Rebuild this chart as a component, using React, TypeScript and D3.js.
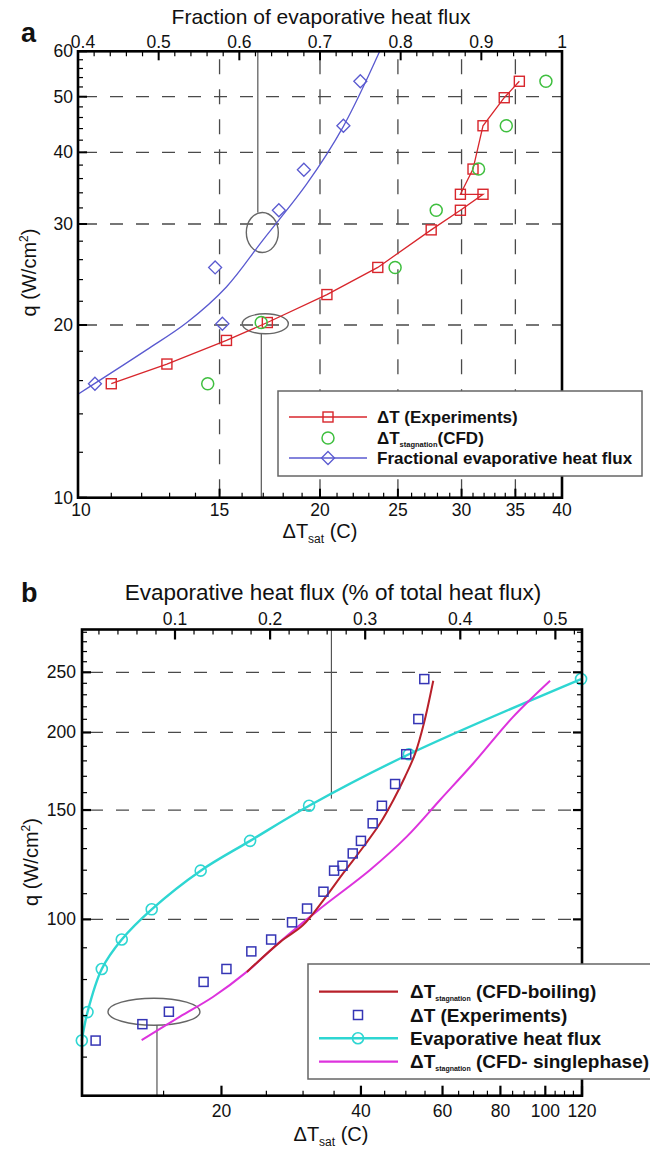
import React from "react";
import * as d3 from "d3";

const FONT = "'Liberation Sans', Arial, Helvetica, sans-serif";

// ================= Panel (a) data =================
const aBottomTicks = [10, 15, 20, 25, 30, 35, 40];
const aLeftTicks = [10, 20, 30, 40, 50, 60];
const aTopTicks = [0.4, 0.5, 0.6, 0.7, 0.8, 0.9, 1];
const aTopTickLabels = ["0.4", "0.5", "0.6", "0.7", "0.8", "0.9", "1"];
const aGridQ = [20, 30, 40, 50];
const aGridDT = [15, 20, 25, 30, 35];

// ΔT (Experiments)
const aExpDT = [11.0, 12.9, 15.3, 17.2, 20.4, 23.6, 27.5, 29.9, 31.9, 29.9, 31.0, 31.9, 33.9, 35.4];
const aExpQ = [15.8, 17.1, 18.8, 20.2, 22.6, 25.2, 29.3, 31.7, 33.8, 33.8, 37.4, 44.5, 49.8, 53.2];
// ΔT stagnation (CFD)
const aCfdDT = [14.5, 16.9, 24.8, 27.9, 31.5, 34.1, 38.2];
const aCfdQ = [15.8, 20.2, 25.2, 31.7, 37.4, 44.5, 53.2];
// Fractional evaporative heat flux (points + fitted curve)
const aFracF = [0.421, 0.579, 0.57, 0.649, 0.68, 0.729, 0.75];
const aFracQ = [15.8, 20.1, 25.2, 31.7, 37.3, 44.5, 53.2];
const aFitF = [0.4, 0.485, 0.535, 0.584, 0.629, 0.684, 0.729, 0.774];
const aFitQ = [15.15, 18.1, 20.2, 23.3, 28.1, 35.3, 44.4, 60];

// ================= Panel (b) data =================
const bBottomTicks = [20, 40, 60, 80, 100, 120];
const bLeftTicks = [100, 150, 200, 250];
const bTopTicks = [0.1, 0.2, 0.3, 0.4, 0.5];
const bTopTickLabels = ["0.1", "0.2", "0.3", "0.4", "0.5"];
const bGridQ = [100, 150, 200, 250];

// ΔT (Experiments)
const bExpDT = [10.7, 13.5, 15.4, 18.3, 20.5, 23.2, 25.6, 28.4, 30.6, 33.2, 35.0, 36.5, 38.4, 40.0, 42.4, 44.4, 47.4, 50.1, 53.2, 54.8];
const bExpQ = [63.8, 67.8, 71.0, 79.3, 83.2, 88.8, 92.8, 98.9, 104.1, 110.8, 119.8, 122.0, 127.7, 133.8, 142.8, 152.4, 165.2, 184.5, 210.2, 243.8];
// Evaporative heat flux (fraction)
const bEvapF = [0.002, 0.008, 0.023, 0.044, 0.0755, 0.127, 0.179, 0.241, 0.346, 0.527];
const bEvapQ = [63.8, 70.9, 83.2, 92.8, 103.8, 119.8, 133.8, 152.4, 184.5, 243.8];
// ΔT stagnation (CFD-boiling)
const bBoilDT = [22.7, 26.8, 30.0, 33.2, 36.6, 40.5, 44.0, 47.0, 49.8, 52.4, 54.7, 57.3];
const bBoilQ = [82.3, 92.0, 97.9, 107.4, 118.6, 130.9, 142.8, 155.7, 169.7, 185.1, 206.9, 242.3];
// ΔT stagnation (CFD- singlephase)
const bSingleDT = [13.45, 16.27, 19.2, 22.67, 26.75, 32.36, 41.84, 50.23, 59.25, 69.95, 85.3, 102.4];
const bSingleQ = [63.9, 69.7, 75.05, 82.3, 92.0, 103.5, 120.1, 135.9, 155.7, 178.4, 212.1, 242.3];

const RED_A = "#d8262c";
const GREEN_A = "#3fbf3f";
const BLUE_A = "#5a5ad0";
const RED_B = "#b8202a";
const BLUE_B = "#3535b5";
const CYAN_B = "#2ed6d2";
const MAG_B = "#dd33dd";
const GRID = "#4a4a4a";

type P = { l: number; r: number; t: number; b: number };

function Square({ x, y, s, c, w = 1.4 }: any) {
  return <rect x={x - s / 2} y={y - s / 2} width={s} height={s} fill="none" stroke={c} strokeWidth={w} />;
}
function Diamond({ x, y, s, c }: any) {
  return <path d={`M${x},${y - s}L${x + s},${y}L${x},${y + s}L${x - s},${y}Z`} fill="none" stroke={c} strokeWidth={1.3} />;
}

function hTicks(vals: number[], scale: any, xEdge: number, dir: number, len: number, w: number, key: string) {
  return vals.map((v, i) => (
    <line key={key + i} x1={xEdge} x2={xEdge + dir * len} y1={scale(v)} y2={scale(v)} stroke="#000" strokeWidth={w} />
  ));
}
function vTicks(vals: number[], scale: any, yEdge: number, dir: number, len: number, w: number, key: string) {
  return vals.map((v, i) => (
    <line key={key + i} y1={yEdge} y2={yEdge + dir * len} x1={scale(v)} x2={scale(v)} stroke="#000" strokeWidth={w} />
  ));
}

export default function App() {
  // ---------- panel a scales ----------
  const A: P = { l: 78, r: 562, t: 51.3, b: 497.7 };
  const ax = d3.scaleLog().domain([10, 40]).range([A.l, A.r]);
  const ay = d3.scaleLog().domain([10, 60]).range([A.b, A.t]);
  const axTop = d3.scaleLinear().domain([0.4, 1]).range([A.l, A.r]);

  // ---------- panel b scales ----------
  const B: P = { l: 82, r: 582, t: 629.5, b: 1095.7 };
  const bx = d3.scaleLog().domain([10, 120]).range([B.l, B.r]);
  const by = d3.scaleLog().domain([52, 293]).range([B.b, B.t]);
  const bxTop = d3.scaleLinear().domain([0.0022, 0.528]).range([B.l, B.r]);

  const aMinorX = d3.range(11, 40).filter((v) => v % 5 !== 0);
  const aMinorY = d3.range(12, 60, 2).filter((v) => v % 10 !== 0);
  const aMinorTop = d3.range(0.42, 1.0, 0.02).filter((v) => Math.abs(v * 10 - Math.round(v * 10)) > 1e-6);

  const bMinorX = d3.range(15, 120, 5).filter((v) => bBottomTicks.indexOf(v) < 0);
  const bMinorY = d3.range(60, 293, 10).filter((v) => bLeftTicks.indexOf(v) < 0);
  const bMinorTop = d3.range(0.02, 0.528, 0.02).filter((v) => Math.abs(v * 10 - Math.round(v * 10)) > 1e-6);

  const lineA = d3
    .line<number>()
    .x((_, i) => ax(aExpDT[i]))
    .y((_, i) => ay(aExpQ[i]));
  const fitA = d3
    .line<number>()
    .x((_, i) => axTop(aFitF[i]))
    .y((_, i) => ay(aFitQ[i]))
    .curve(d3.curveCatmullRom.alpha(0.5));

  const evapLine = d3
    .line<number>()
    .x((_, i) => bxTop(bEvapF[i]))
    .y((_, i) => by(bEvapQ[i]))
    .curve(d3.curveCatmullRom.alpha(0.5));
  const boilLine = d3
    .line<number>()
    .x((_, i) => bx(bBoilDT[i]))
    .y((_, i) => by(bBoilQ[i]))
    .curve(d3.curveCatmullRom.alpha(0.5));
  const singleLine = d3
    .line<number>()
    .x((_, i) => bx(bSingleDT[i]))
    .y((_, i) => by(bSingleQ[i]))
    .curve(d3.curveCatmullRom.alpha(0.5));

  const tickFont = { fontFamily: FONT, fontSize: 17.5, fill: "#111" } as any;

  // annotation anchors
  const aEll1 = { x: axTop(0.6285), y: ay(29.0) };
  const aEll2 = { x: ax(17.1), y: ay(20.1) };
  const bEll = { x: bx(14.3), y: by(71.0) };

  return (
    <svg width={650} height={1150} style={{ position: "absolute", left: 0, top: 0, background: "#fff" }} fontFamily={FONT}>
      <defs>
        <clipPath id="clipA">
          <rect x={A.l} y={A.t} width={A.r - A.l} height={A.b - A.t} />
        </clipPath>
      </defs>
      <rect x={0} y={0} width={650} height={1150} fill="#fff" />

      {/* ======================= PANEL A ======================= */}
      <text x={21} y={42} fontSize={27} fontWeight="bold" fill="#111">a</text>
      <text x={(A.l + A.r) / 2 + 1} y={24} fontSize={21} textAnchor="middle" fill="#111">
        Fraction of evaporative heat flux
      </text>

      {/* grid */}
      {aGridQ.map((q, i) => (
        <line key={"agq" + i} x1={A.l} x2={A.r} y1={ay(q)} y2={ay(q)} stroke={GRID} strokeWidth={1.3} strokeDasharray="13,13" strokeDashoffset={-6} />
      ))}
      {aGridDT.map((d, i) => (
        <line key={"agd" + i} x1={ax(d)} x2={ax(d)} y1={A.t} y2={A.b} stroke={GRID} strokeWidth={1.3} strokeDasharray="15,15" strokeDashoffset={-8} />
      ))}

      {/* annotations */}
      <line x1={aEll1.x - 4.5} x2={aEll1.x - 4.5} y1={A.t} y2={aEll1.y - 20} stroke="#555" strokeWidth={1.2} />
      <ellipse cx={aEll1.x} cy={aEll1.y} rx={16} ry={20} fill="none" stroke="#666" strokeWidth={1.4} />
      <line x1={aEll2.x - 4} x2={aEll2.x - 4} y1={aEll2.y + 10} y2={A.b} stroke="#555" strokeWidth={1.2} />
      <ellipse cx={aEll2.x} cy={aEll2.y} rx={23} ry={10} fill="none" stroke="#666" strokeWidth={1.4} />

      {/* fit curve */}
      <path d={fitA(aFitF) || ""} fill="none" stroke={BLUE_A} strokeWidth={1.3} clipPath="url(#clipA)" />
      {aFracF.map((f, i) => (
        <Diamond key={"ad" + i} x={axTop(f)} y={ay(aFracQ[i])} s={6.5} c={BLUE_A} />
      ))}
      {/* experiments */}
      <path d={lineA(aExpDT) || ""} fill="none" stroke={RED_A} strokeWidth={1.3} />
      {aExpDT.map((d, i) => (
        <Square key={"as" + i} x={ax(d)} y={ay(aExpQ[i])} s={10} c={RED_A} />
      ))}
      {aCfdDT.map((d, i) => (
        <circle key={"ac" + i} cx={ax(d)} cy={ay(aCfdQ[i])} r={6} fill="none" stroke={GREEN_A} strokeWidth={1.5} />
      ))}

      {/* frame & ticks */}
      {hTicks(aLeftTicks, ay, A.l, 1, 9, 2, "alM")}
      {hTicks(aMinorY, ay, A.l, 1, 5, 1.2, "alm")}
      {vTicks(aBottomTicks, ax, A.b, -1, 9, 2, "abM")}
      {vTicks(aMinorX, ax, A.b, -1, 5, 1.2, "abm")}
      {vTicks(aTopTicks, axTop, A.t, 1, 9, 2, "atM")}
      {vTicks(aMinorTop, axTop, A.t, 1, 5, 1.2, "atm")}
      <rect x={A.l} y={A.t} width={A.r - A.l} height={A.b - A.t} fill="none" stroke="#000" strokeWidth={2.6} />

      {/* tick labels */}
      {aTopTicks.map((v, i) => (
        <text key={"atl" + i} x={axTop(v) + (i === 0 ? 5 : 0)} y={48} textAnchor="middle" {...tickFont}>
          {aTopTickLabels[i]}
        </text>
      ))}
      {aLeftTicks.map((v, i) => (
        <text key={"all" + i} x={73} y={ay(v) + 6} textAnchor="end" {...tickFont}>
          {v}
        </text>
      ))}
      {aBottomTicks.map((v, i) => (
        <text key={"abl" + i} x={ax(v) + (i === 0 ? 3 : 0)} y={516} textAnchor="middle" {...tickFont}>
          {v}
        </text>
      ))}

      {/* axis labels */}
      <text x={(A.l + A.r) / 2} y={538} textAnchor="middle" fontSize={20} fill="#111">
        ΔT<tspan fontSize={12} dy={5}>sat</tspan>
        <tspan dy={-5}> (C)</tspan>
      </text>
      <text transform={`translate(36,${(A.t + A.b) / 2 - 2}) rotate(-90)`} textAnchor="middle" fontSize={20} fill="#111">
        q (W/cm<tspan fontSize={12} dy={-8}>2</tspan>
        <tspan dy={8}>)</tspan>
      </text>

      {/* legend a */}
      <rect x={278} y={391} width={364} height={85} fill="#fff" stroke="#666" strokeWidth={1.5} />
      <line x1={289} x2={367} y1={417} y2={417} stroke={RED_A} strokeWidth={1.3} />
      <Square x={328} y={417} s={10} c={RED_A} />
      <circle cx={328} cy={438} r={6} fill="none" stroke={GREEN_A} strokeWidth={1.5} />
      <line x1={289} x2={367} y1={458} y2={458} stroke={BLUE_A} strokeWidth={1.3} />
      <Diamond x={328} y={458} s={6.5} c={BLUE_A} />
      <g fontSize={17} fontWeight="bold" fill="#111">
        <text x={377} y={423}>ΔT (Experiments)</text>
        <text x={377} y={444}>
          ΔT<tspan fontSize={7.5} dy={3}>stagnation</tspan>
          <tspan dy={-3}>(CFD)</tspan>
        </text>
        <text x={377} y={464}>Fractional evaporative heat flux</text>
      </g>

      {/* ======================= PANEL B ======================= */}
      <text x={21} y={602} fontSize={27} fontWeight="bold" fill="#111">b</text>
      <text x={333} y={600} fontSize={22.5} textAnchor="middle" fill="#111">
        Evaporative heat flux (% of total heat flux)
      </text>

      {bGridQ.map((q, i) => (
        <line key={"bgq" + i} x1={B.l} x2={B.r} y1={by(q)} y2={by(q)} stroke={GRID} strokeWidth={1.3} strokeDasharray="13,13" strokeDashoffset={-8} />
      ))}

      {/* annotations */}
      <line x1={bxTop(0.2645)} x2={bxTop(0.2645)} y1={B.t} y2={by(156.5)} stroke="#555" strokeWidth={1.2} />
      <ellipse cx={bEll.x} cy={bEll.y} rx={46} ry={13.5} fill="none" stroke="#666" strokeWidth={1.4} />
      <line x1={bEll.x + 3} x2={bEll.x + 3} y1={bEll.y + 13.5} y2={B.b} stroke="#555" strokeWidth={1.2} />

      {/* curves */}
      <path d={evapLine(bEvapF) || ""} fill="none" stroke={CYAN_B} strokeWidth={2.4} />
      {bEvapF.map((f, i) => (
        <circle key={"bc" + i} cx={bxTop(f)} cy={by(bEvapQ[i])} r={5.5} fill="none" stroke={CYAN_B} strokeWidth={1.6} />
      ))}
      <path d={singleLine(bSingleDT) || ""} fill="none" stroke={MAG_B} strokeWidth={2} />
      <path d={boilLine(bBoilDT) || ""} fill="none" stroke={RED_B} strokeWidth={2} />
      {bExpDT.map((d, i) => (
        <Square key={"bs" + i} x={bx(d)} y={by(bExpQ[i])} s={9} c={BLUE_B} w={1.5} />
      ))}

      {/* ticks & frame */}
      {hTicks(bLeftTicks, by, B.l, 1, 9, 2.2, "blM")}
      {hTicks(bMinorY, by, B.l, 1, 5, 1.2, "blm")}
      {hTicks(bLeftTicks, by, B.r, -1, 9, 2.2, "brM")}
      {hTicks(bMinorY, by, B.r, -1, 5, 1.2, "brm")}
      {vTicks(bBottomTicks, bx, B.b, -1, 10, 2.2, "bbM")}
      {vTicks(bMinorX, bx, B.b, -1, 5, 1.2, "bbm")}
      {vTicks(bTopTicks, bxTop, B.t, 1, 10, 2.2, "btM")}
      {vTicks(bMinorTop, bxTop, B.t, 1, 5, 1.2, "btm")}
      <rect x={B.l} y={B.t} width={B.r - B.l} height={B.b - B.t} fill="none" stroke="#000" strokeWidth={2.6} />

      {bTopTicks.map((v, i) => (
        <text key={"btl" + i} x={bxTop(v)} y={625} textAnchor="middle" {...tickFont}>
          {bTopTickLabels[i]}
        </text>
      ))}
      {bLeftTicks.map((v, i) => (
        <text key={"bll" + i} x={76} y={by(v) + 6} textAnchor="end" {...tickFont}>
          {v}
        </text>
      ))}
      {bBottomTicks.map((v, i) => (
        <text key={"bbl" + i} x={bx(v)} y={1117} textAnchor="middle" {...tickFont}>
          {v}
        </text>
      ))}

      <text x={331} y={1141} textAnchor="middle" fontSize={20} fill="#111">
        ΔT<tspan fontSize={12} dy={5}>sat</tspan>
        <tspan dy={-5}> (C)</tspan>
      </text>
      <text transform={`translate(38,862) rotate(-90)`} textAnchor="middle" fontSize={20} fill="#111">
        q (W/cm<tspan fontSize={12} dy={-8}>2</tspan>
        <tspan dy={8}>)</tspan>
      </text>

      {/* legend b */}
      <rect x={308} y={964} width={360} height={115} fill="#fff" stroke="#666" strokeWidth={1.5} />
      <line x1={319} x2={398} y1={991.7} y2={991.7} stroke={RED_B} strokeWidth={2.2} />
      <Square x={358} y={1015} s={9} c={BLUE_B} w={1.5} />
      <line x1={319} x2={398} y1={1038.3} y2={1038.3} stroke={CYAN_B} strokeWidth={2.4} />
      <circle cx={358} cy={1038.3} r={5.5} fill="none" stroke={CYAN_B} strokeWidth={1.6} />
      <line x1={319} x2={398} y1={1061.7} y2={1061.7} stroke={MAG_B} strokeWidth={2.2} />
      <g fontSize={19} fontWeight="bold" fill="#111">
        <text x={410} y={998}>
          ΔT<tspan fontSize={7} dy={3}>stagnation</tspan>
          <tspan dy={-3}> (CFD-boiling)</tspan>
        </text>
        <text x={410} y={1021.5}>ΔT (Experiments)</text>
        <text x={410} y={1045}>Evaporative heat flux</text>
        <text x={410} y={1068}>
          ΔT<tspan fontSize={7} dy={3}>stagnation</tspan>
          <tspan dy={-3}> (CFD- singlephase)</tspan>
        </text>
      </g>
    </svg>
  );
}
